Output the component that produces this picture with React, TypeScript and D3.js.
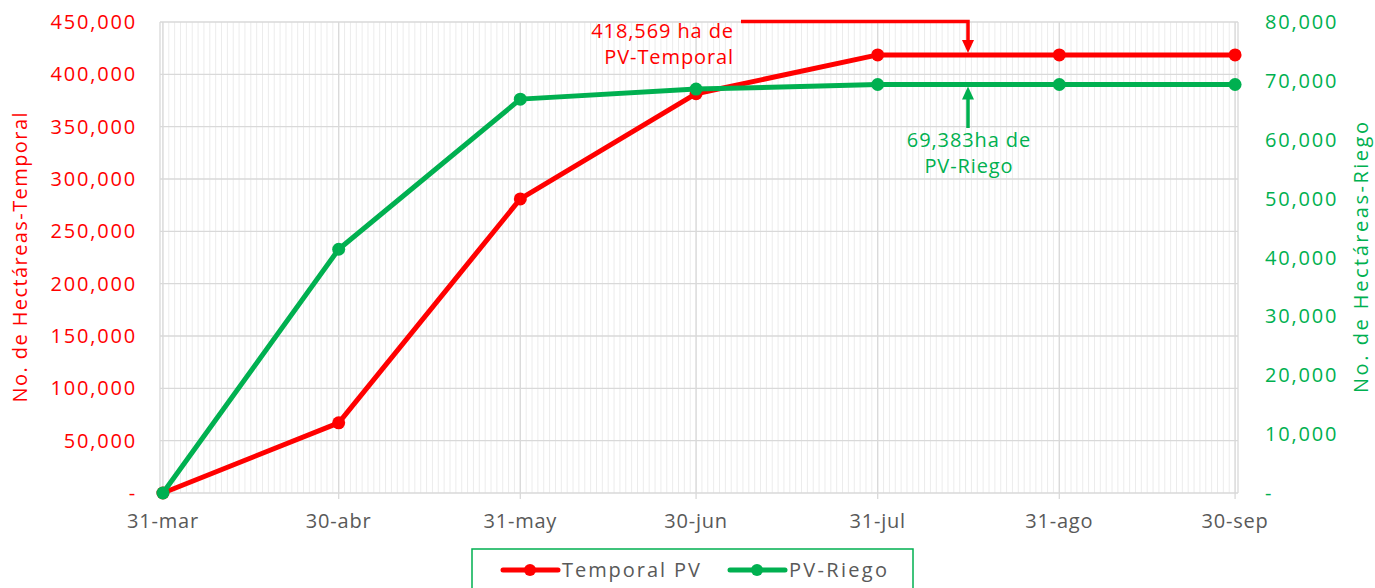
import React from 'react';
import * as d3 from 'd3';

// fechas de corte (mensual)
const dates = [
  new Date(2023, 2, 31),
  new Date(2023, 3, 30),
  new Date(2023, 4, 31),
  new Date(2023, 5, 30),
  new Date(2023, 6, 31),
  new Date(2023, 7, 31),
  new Date(2023, 8, 30),
];
const xTickLabels = ['31-mar', '30-abr', '31-may', '30-jun', '31-jul', '31-ago', '30-sep'];

// hectáreas acumuladas
const temporal = [0, 67000, 281000, 381500, 418569, 418569, 418569];
const riego = [0, 41400, 66900, 68600, 69383, 69383, 69383];

const leftTicks = [0, 50000, 100000, 150000, 200000, 250000, 300000, 350000, 400000, 450000];
const rightTicks = [0, 10000, 20000, 30000, 40000, 50000, 60000, 70000, 80000];

const RED = '#ff0000';
const GREEN = '#00b050';
const FONT = "'Open Sans', sans-serif";

export default function App() {
  const width = 1375;
  const height = 588;
  const margin = { top: 22, left: 160, bottom: 95, right: 137 };
  const plotBottom = height - margin.bottom;
  const plotRight = width - margin.right;

  const halfDay = 12 * 3600 * 1000;
  const x = d3
    .scaleTime()
    .domain([new Date(+dates[0] - halfDay), new Date(+dates[dates.length - 1] + halfDay)])
    .range([margin.left, plotRight]);
  const yL = d3.scaleLinear().domain([0, 450000]).range([plotBottom, margin.top]);
  const yR = d3.scaleLinear().domain([0, 80000]).range([plotBottom, margin.top]);

  const fmt = (v: number) => (v === 0 ? '-' : d3.format(',')(v));
  const days = d3.timeDay.range(dates[0], d3.timeDay.offset(dates[dates.length - 1], 1));

  const lineL = d3
    .line<number>()
    .x((_, i) => x(dates[i]))
    .y((d) => yL(d));
  const lineR = d3
    .line<number>()
    .x((_, i) => x(dates[i]))
    .y((d) => yR(d));

  const arrowX = 968;
  const tempY = yL(temporal[4]);
  const riegoY = yR(riego[4]);
  const midY = (margin.top + plotBottom) / 2;

  return (
    <svg
      width={width}
      height={height}
      style={{ position: 'absolute', left: 0, top: 0, background: '#fff' }}
      fontFamily={FONT}
    >
      {/* minor vertical grid (diario) */}
      <g stroke="#ececec" strokeWidth={1}>
        {days.map((d, i) => (
          <line key={i} x1={x(d)} x2={x(d)} y1={margin.top} y2={plotBottom} />
        ))}
      </g>
      {/* horizontal grid */}
      <g stroke="#d9d9d9" strokeWidth={1.3}>
        {leftTicks.map((t) => (
          <line key={t} x1={margin.left} x2={plotRight} y1={yL(t)} y2={yL(t)} />
        ))}
      </g>
      {/* major vertical grid */}
      <g stroke="#d9d9d9" strokeWidth={1.3}>
        {dates.map((d, i) => (
          <line key={i} x1={x(d)} x2={x(d)} y1={margin.top} y2={plotBottom + 6} />
        ))}
        <line x1={margin.left} x2={margin.left} y1={margin.top} y2={plotBottom} />
        <line x1={plotRight} x2={plotRight} y1={margin.top} y2={plotBottom} />
      </g>

      {/* left axis */}
      <g fill={RED} fontSize={20} textAnchor="end" letterSpacing={1.8}>
        {leftTicks.map((t) => (
          <text key={t} x={137} y={yL(t)} dy="0.35em">
            {fmt(t)}
          </text>
        ))}
      </g>
      {/* right axis */}
      <g fill={GREEN} fontSize={20} textAnchor="start" letterSpacing={1.8}>
        {rightTicks.map((t) => (
          <text key={t} x={1265} y={yR(t)} dy="0.35em">
            {fmt(t)}
          </text>
        ))}
      </g>
      {/* x axis labels */}
      <g fill="#595959" fontSize={20} textAnchor="middle" letterSpacing={0.8}>
        {dates.map((d, i) => (
          <text key={i} x={x(d)} y={528}>
            {xTickLabels[i]}
          </text>
        ))}
      </g>

      {/* axis titles */}
      <text
        transform={`translate(27,${midY}) rotate(-90)`}
        textAnchor="middle"
        fill={RED}
        fontSize={20}
        textLength={290}
        lengthAdjust="spacing"
      >
        No. de Hectáreas-Temporal
      </text>
      <text
        transform={`translate(1368,${midY}) rotate(-90)`}
        textAnchor="middle"
        fill={GREEN}
        fontSize={20}
        textLength={271}
        lengthAdjust="spacing"
      >
        No. de Hectáreas-Riego
      </text>

      {/* series */}
      <path d={lineL(temporal) || ''} fill="none" stroke={RED} strokeWidth={5} strokeLinejoin="round" />
      {temporal.map((v, i) => (
        <circle key={i} cx={x(dates[i])} cy={yL(v)} r={6.5} fill={RED} />
      ))}
      <path d={lineR(riego) || ''} fill="none" stroke={GREEN} strokeWidth={5} strokeLinejoin="round" />
      {riego.map((v, i) => (
        <circle key={i} cx={x(dates[i])} cy={yR(v)} r={6.5} fill={GREEN} />
      ))}

      {/* anotación temporal */}
      <path
        d={`M741,21.5 H${arrowX} V${tempY - 14}`}
        fill="none"
        stroke={RED}
        strokeWidth={3.5}
      />
      <path d={`M${arrowX - 6},${tempY - 15} L${arrowX + 6},${tempY - 15} L${arrowX},${tempY - 2} Z`} fill={RED} />
      <g fill={RED} fontSize={20} textAnchor="end" letterSpacing={0.9}>
        <text x={734} y={38}>418,569 ha de</text>
        <text x={734} y={64}>PV-Temporal</text>
      </g>

      {/* anotación riego */}
      <path d={`M${arrowX},128 V${riegoY + 14}`} fill="none" stroke={GREEN} strokeWidth={3.5} />
      <path d={`M${arrowX - 6},${riegoY + 15} L${arrowX + 6},${riegoY + 15} L${arrowX},${riegoY + 2} Z`} fill={GREEN} />
      <g fill={GREEN} fontSize={20} textAnchor="middle" letterSpacing={0.9}>
        <text x={969} y={147}>69,383ha de</text>
        <text x={969} y={173}>PV-Riego</text>
      </g>

      {/* leyenda */}
      <rect x={472} y={549} width={441} height={50} fill="#fff" stroke={GREEN} strokeWidth={1.5} />
      <line x1={503} x2={558} y1={570} y2={570} stroke={RED} strokeWidth={5} strokeLinecap="round" />
      <circle cx={530} cy={570} r={6} fill={RED} />
      <text x={562} y={577} fontSize={20} fill="#595959" textLength={138} lengthAdjust="spacing">
        Temporal PV
      </text>
      <line x1={730} x2={785} y1={570} y2={570} stroke={GREEN} strokeWidth={5} strokeLinecap="round" />
      <circle cx={757} cy={570} r={6} fill={GREEN} />
      <text x={789} y={577} fontSize={20} fill="#595959" textLength={98} lengthAdjust="spacing">
        PV-Riego
      </text>
    </svg>
  );
}
